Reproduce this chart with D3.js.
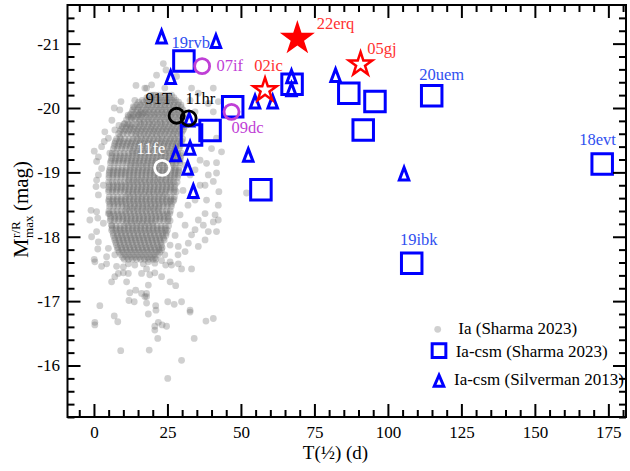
<!DOCTYPE html>
<html>
<head>
<meta charset="utf-8">
<script src="https://cdn.jsdelivr.net/npm/d3@7"></script>
<style>
  body { margin: 0; background: #fff; }
  svg { display: block; }
  text { font-family: "Liberation Serif", "Times New Roman", serif; }
</style>
</head>
<body>
<svg id="chart" width="630" height="471"></svg>
<script>
// ---- data -------------------------------------------------------------
// Axis domains: rise/decline time T(1/2) in days, peak magnitude
const tDomain = [-9, 181];
const mDomain = [-15.2, -21.6];
const xMajorTicks = [0, 25, 50, 75, 100, 125, 150, 175];
const yMajorTicks = [-21, -20, -19, -18, -17, -16];

// Normal SNe Ia (Sharma 2023): well separated points [T, M]
const iaSparse = [
  [14.3,-20.35],[17.3,-20.31],[9.2,-20.10],[13.9,-20.12],[6.9,-20.00],[13.4,-20.02],[15.1,-19.89],[16.8,-19.92],
  [12.6,-19.85],[10.5,-19.76],[8.5,-19.73],[12.2,-19.74],[3.7,-19.63],[7.1,-19.66],[4.9,-19.53],[8.8,-19.55],
  [3.5,-19.48],[0.1,-19.33],[2.6,-19.40],[5.4,-19.30],[1.5,-19.24],[0.9,-19.17],[1.5,-18.96],[2.6,-19.06],
  [0.9,-18.88],[0.7,-18.78],[3.2,-18.80],[1.5,-18.65],[-1.0,-18.41],[0.9,-18.39],[-1.4,-18.26],[1.3,-18.29],
  [4.9,-18.36],[3.2,-18.21],[6.0,-18.18],[0.9,-18.08],[1.5,-17.92],[-0.8,-18.00],[1.3,-17.81],[4.9,-17.82],
  [4.3,-17.69],[7.1,-17.72],[0.1,-17.65],[0.3,-17.61],[2.6,-17.54],[4.3,-17.58],[7.7,-17.54],[10.0,-17.53],
  [11.7,-17.58],[13.9,-17.56],[16.8,-17.58],[8.3,-17.43],[10.0,-17.44],[11.7,-17.43],[16.2,-17.43],[7.1,-17.38],
  [6.0,-17.30],[11.1,-17.30],[14.2,-17.17],[12.2,-17.13],[16.2,-17.12],[17.3,-17.07],[11.9,-17.01],[13.7,-16.99],
  [2.0,-16.93],[6.9,-16.77],[0.3,-16.67],[0.3,-16.63],[8.1,-16.68],[9.1,-16.23],
  [18.5,-17.61],[20.7,-17.59],[23.0,-17.63],[25.9,-17.61],[24.4,-17.56],[26.4,-17.56],[28.7,-17.58],[29.8,-17.50],
  [33.2,-17.50],[17.9,-17.50],[19.0,-17.41],[20.7,-17.44],[23.0,-17.38],[18.5,-17.25],[25.9,-17.30],[27.8,-17.24],
  [17.9,-17.12],[17.9,-17.07],[17.9,-16.97],[21.0,-16.93],[21.1,-16.86],[25.1,-16.99],[27.3,-16.95],[29.8,-16.99],
  [32.7,-16.86],[32.7,-16.83],[18.5,-16.80],[38.1,-16.69],[40.6,-16.73],[21.9,-16.67],[20.7,-16.61],[23.2,-16.63],
  [24.7,-16.61],[20.7,-16.55],[21.7,-16.42],[34.1,-16.42],[18.8,-16.24],[29.8,-16.08],[25.1,-15.80],
  [38.3,-19.14],[41.7,-19.15],[38.9,-18.96],[41.7,-18.99],[40.6,-18.86],[42.5,-18.70],[37.8,-18.80],[38.3,-18.57],
  [42.3,-18.49],[37.8,-18.36],[41.2,-18.34],[42.3,-18.26],[40.6,-18.23],[37.2,-18.18],[35.5,-18.26],[34.4,-18.11],
  [38.9,-18.08],[41.7,-18.08],[33.2,-18.03],[37.8,-17.95],[32.1,-17.90],[35.5,-17.85],[31.0,-17.77],[28.7,-17.85],
  [17.9,-20.31],[19.6,-20.36],[20.2,-20.20],[24.1,-20.31],[28.1,-20.49],[33.2,-20.31],[35.5,-20.23],[40.6,-20.31],
  [38.9,-20.07],[42.3,-20.10],[40.6,-19.94],[41.7,-19.53],[40.0,-19.37],[43.4,-19.32],
  [23.6,-20.69],[21.3,-20.51],[24.5,-20.59],[51.9,-18.68],
  [31.0,-19.11],[32.7,-18.96],[30.3,-18.72],[32.0,-18.49],[34.4,-18.57],[29.3,-18.34],[31.0,-18.18],[27.6,-18.02],
  [25.9,-17.87],[28.6,-17.72],[24.1,-17.72],[32.7,-20.12],[34.4,-19.94],[36.1,-19.19],[34.4,-19.04],[36.1,-18.80],
  [8.8,-19.97],[11.6,-19.89],[6.1,-19.81]
];

// Normal SNe Ia (Sharma 2023): crowded core, one row per magnitude [M, [T...]]
const iaCoreRows = [
  [-20.20, [19.3,20.8,22.0,23.6,25.1,26.4]],
  [-20.16, [18.0,19.6,21.3,22.8,24.4,25.8,27.2]],
  [-20.12, [16.4,17.9,19.2,20.7,22.3,23.5,25.0,26.6,27.9]],
  [-20.09, [15.2,16.9,18.4,19.9,21.2,22.9,24.6,25.9,27.4,28.8]],
  [-20.05, [14.6,15.8,17.4,18.6,20.1,21.5,23.0,24.2,25.8,27.1,28.6,29.6]],
  [-20.01, [13.8,15.3,16.8,18.2,19.6,21.1,22.5,24.0,25.4,26.9,28.1,29.7]],
  [-19.97, [13.2,14.9,16.1,17.7,19.0,20.4,21.9,23.2,24.6,26.0,27.5,28.8,30.3]],
  [-19.93, [12.9,14.4,15.8,17.3,18.6,20.1,21.5,23.0,24.3,25.8,27.1,28.6,30.0]],
  [-19.90, [12.4,13.6,15.2,16.5,18.0,19.5,20.8,22.2,23.7,25.1,26.4,27.9,29.2,30.6]],
  [-19.86, [11.7,13.3,14.7,16.1,17.6,18.9,20.4,21.8,23.3,24.7,26.1,27.5,28.9,30.3]],
  [-19.82, [11.1,12.8,14.0,15.6,16.9,18.4,19.7,21.2,22.6,24.0,25.5,26.8,28.3,29.6,30.9]],
  [-19.78, [15.3,17.1,18.9,20.7,22.5,24.3,26.1,27.9]],
  [-19.75, [10.2,11.6,13.1,14.5,15.9,17.2,18.8,20.1,21.6,23.0,24.3,25.9,27.2,28.6,30.0]],
  [-19.71, [9.7,11.1,12.6,14.0,15.4,16.9,18.3,19.7,21.1,22.6,24.0,25.4,26.8,28.3,29.7,30.8]],
  [-19.67, [9.3,10.8,12.2,13.6,15.0,16.4,17.8,19.3,20.6,22.0,23.5,24.8,26.3,27.6,29.1,30.5]],
  [-19.64, [8.9,10.3,11.8,13.2,14.6,16.0,17.4,18.9,20.3,21.7,23.1,24.5,25.9,27.4,28.8,30.1]],
  [-19.60, [8.4,9.9,11.3,12.7,14.2,15.5,17.0,18.4,19.8,21.2,22.6,24.0,25.5,26.9,28.2,29.7]],
  [-19.56, [14.2,16.0,17.8,19.6,21.4,23.2,25.0,26.8,28.6]],
  [-19.52, [7.7,9.1,10.5,12.0,13.3,14.8,16.2,17.6,19.0,20.4,21.9,23.2,24.7,26.1,27.4,28.9,30.2]],
  [-19.48, [7.3,8.7,10.1,11.6,13.0,14.4,15.8,17.2,18.6,20.1,21.5,22.9,24.3,25.7,27.1,28.5,29.9]],
  [-19.45, [7.1,8.5,9.8,11.3,12.6,14.1,15.5,16.9,18.3,19.7,21.1,22.5,23.9,25.3,26.7,28.1,29.5]],
  [-19.41, [6.9,8.2,9.6,11.0,12.4,13.8,15.2,16.6,18.0,19.4,20.9,22.2,23.7,25.1,26.5,27.9,29.3]],
  [-19.37, [6.6,7.9,9.4,10.7,12.2,13.5,15.0,16.4,17.8,19.2,20.6,22.0,23.4,24.8,26.2,27.6,29.0]],
  [-19.33, [13.1,14.9,16.7,18.5,20.3,22.1,23.9,25.7,27.5]],
  [-19.30, [6.2,7.5,8.9,10.3,11.7,13.1,14.5,15.9,17.3,18.7,20.1,21.5,22.9,24.3,25.7,27.1,28.5,29.8]],
  [-19.26, [6.1,7.6,9.0,10.4,11.8,13.2,14.6,16.0,17.4,18.8,20.2,21.6,23.0,24.4,25.8,27.2,28.6,29.6]],
  [-19.22, [6.0,7.3,8.7,10.0,11.5,12.8,14.3,15.6,17.1,18.4,19.9,21.2,22.7,24.0,25.5,26.8,28.2,29.4]],
  [-19.18, [5.8,7.2,8.6,10.0,11.4,12.8,14.2,15.6,17.0,18.4,19.8,21.2,22.6,24.0,25.4,26.8,28.2,29.3]],
  [-19.15, [5.6,7.0,8.3,9.8,11.1,12.6,13.9,15.3,16.7,18.1,19.5,20.9,22.3,23.7,25.1,26.5,27.9,29.2]],
  [-19.11, [12.4,14.2,16.0,17.8,19.6,21.4,23.2,25.0,26.8]],
  [-19.07, [5.5,6.8,8.2,9.6,11.0,12.4,13.8,15.2,16.6,18.0,19.4,20.8,22.2,23.6,25.0,26.4,27.7,28.9]],
  [-19.03, [5.3,6.7,8.1,9.5,10.9,12.3,13.7,15.1,16.5,17.9,19.3,20.7,22.1,23.5,24.9,26.3,27.7,28.9]],
  [-19.00, [5.2,6.5,7.9,9.3,10.7,12.1,13.5,14.9,16.3,17.7,19.1,20.5,21.9,23.3,24.7,26.1,27.5,28.8]],
  [-18.96, [5.1,6.5,7.9,9.3,10.7,12.1,13.5,14.9,16.3,17.7,19.1,20.5,21.9,23.3,24.7,26.1,27.5,28.6]],
  [-18.92, [5.1,6.4,7.8,9.2,10.6,12.0,13.4,14.8,16.2,17.6,19.0,20.4,21.8,23.2,24.6,26.0,27.3,28.4]],
  [-18.88, [11.8,13.6,15.4,17.2,19.0,20.8,22.6,24.4,26.2]],
  [-18.85, [5.0,6.3,7.7,9.0,10.4,11.8,13.2,14.6,16.0,17.4,18.8,20.2,21.6,23.0,24.4,25.8,27.1,28.3]],
  [-18.81, [5.2,6.6,8.0,9.4,10.8,12.2,13.6,15.0,16.4,17.8,19.2,20.6,22.0,23.4,24.8,26.2,27.6]],
  [-18.77, [5.1,6.5,7.9,9.3,10.7,12.1,13.5,14.9,16.3,17.7,19.1,20.5,21.9,23.3,24.7,26.1,27.4]],
  [-18.73, [5.0,6.4,7.8,9.2,10.6,12.0,13.4,14.8,16.2,17.6,19.0,20.4,21.8,23.2,24.6,26.0,27.4]],
  [-18.70, [5.0,6.3,7.6,9.0,10.4,11.8,13.2,14.6,16.0,17.4,18.8,20.2,21.6,23.0,24.4,25.8,27.2,28.0]],
  [-18.66, [11.5,13.3,15.1,16.9,18.7,20.5,22.3,24.1]],
  [-18.62, [5.2,6.6,8.0,9.4,10.8,12.2,13.6,15.0,16.4,17.8,19.2,20.6,22.0,23.4,24.8,26.2,27.4]],
  [-18.58, [5.1,6.5,7.9,9.3,10.7,12.1,13.5,14.9,16.3,17.7,19.1,20.5,21.9,23.3,24.7,26.1,27.2]],
  [-18.55, [5.0,6.4,7.8,9.2,10.6,12.0,13.4,14.8,16.2,17.6,19.0,20.4,21.8,23.2,24.6,26.0,27.0]],
  [-18.51, [5.4,6.8,8.2,9.6,11.0,12.4,13.8,15.2,16.6,18.0,19.4,20.8,22.2,23.6,25.0,26.4]],
  [-18.47, [5.3,6.7,8.1,9.5,10.9,12.3,13.7,15.1,16.5,17.9,19.3,20.7,22.1,23.5,24.9,26.3]],
  [-18.44, [11.2,13.0,14.8,16.6,18.4,20.2,22.0]],
  [-18.40, [5.1,6.5,7.9,9.3,10.7,12.1,13.5,14.9,16.3,17.7,19.1,20.5,21.9,23.3,24.7,26.0]],
  [-18.36, [5.3,6.7,8.1,9.5,10.9,12.3,13.7,15.1,16.5,17.9,19.3,20.7,22.1,23.5,24.9,25.8]],
  [-18.32, [5.6,7.0,8.4,9.8,11.2,12.6,14.0,15.4,16.8,18.2,19.6,21.0,22.4,23.8,25.2]],
  [-18.28, [5.7,7.1,8.5,9.9,11.3,12.7,14.1,15.5,16.9,18.3,19.7,21.1,22.5,23.9,25.3]],
  [-18.25, [5.5,6.9,8.3,9.7,11.1,12.5,13.9,15.3,16.7,18.1,19.5,20.9,22.3,23.7,25.1,25.9]],
  [-18.21, [11.0,12.8,14.6,16.4,18.2,20.0]],
  [-18.17, [6.1,7.5,8.9,10.3,11.7,13.1,14.5,15.9,17.3,18.7,20.1,21.5,22.9,24.3,25.4]],
  [-18.13, [6.2,7.6,9.0,10.4,11.8,13.2,14.6,16.0,17.4,18.8,20.2,21.6,23.0,24.4]],
  [-18.10, [6.0,7.4,8.8,10.2,11.6,13.0,14.4,15.8,17.2,18.6,20.0,21.4,22.8,24.2,25.0]],
  [-18.06, [6.5,7.9,9.3,10.7,12.1,13.5,14.9,16.3,17.7,19.1,20.5,21.9,23.3,24.6]],
  [-18.02, [6.6,8.0,9.4,10.8,12.2,13.6,15.0,16.4,17.8,19.2,20.6,22.0,23.4,24.5]],
  [-17.98, [7.0,8.4,9.8,11.2,12.6,14.0,15.4,16.8,18.2,19.6,21.0,22.4,23.7]],
  [-17.95, [7.1,8.5,9.9,11.3,12.7,14.1,15.5,16.9,18.3,19.7,21.1,22.5,23.9]],
  [-17.91, [7.4,8.8,10.2,11.6,13.0,14.4,15.8,17.2,18.6,20.0,21.4,22.8]],
  [-17.87, [7.6,9.0,10.4,11.8,13.2,14.6,16.0,17.4,18.8,20.2,21.6,23.0]],
  [-17.83, [8.0,9.4,10.8,12.2,13.6,15.0,16.4,17.8,19.2,20.6,22.0,23.2]],
  [-17.80, [8.1,9.5,10.9,12.3,13.7,15.1,16.5,17.9,19.3,20.7,22.1,23.0]],
  [-17.76, [8.6,10.0,11.4,12.8,14.2,15.6,17.0,18.4,19.8,21.2,22.4]],
  [-17.72, [9.2,10.6,12.0,13.4,14.8,16.2,17.6,19.0,20.4,21.8]],
  [-17.68, [9.8,11.2,12.6,14.0,15.4,16.8,18.2,19.6,20.8]],
  [-17.65, [10.3,11.7,13.1,14.5,15.9,17.3,18.7,20.1,21.0]]
];

// SNe Ia-CSM (Sharma 2023)
const csmSharmaT    = [30.6, 47.2, 33.2, 39.5, 56.8, 67.4, 86.7, 95.6, 91.6, 114.9, 172.9, 108.1];
const csmSharmaM    = [-20.73, -20.02, -19.58, -19.65, -18.73, -20.37, -20.23, -20.10, -19.66, -20.19, -19.13, -17.59];
const csmSharmaName = ["19rvb", "", "", "", "", "", "", "", "", "20uem", "18evt", "19ibk"];

// SNe Ia-CSM (Silverman 2013)
const csmSilvT = [23.0, 41.5, 26.1, 54.8, 60.8, 67.2, 67.2, 32.4, 27.8, 32.7, 31.9, 33.8, 52.5, 82.2, 105.5];
const csmSilvM = [-21.13, -21.06, -20.50, -20.12, -20.12, -20.51, -20.31, -19.84, -19.30, -19.40, -19.09, -18.73, -19.29, -20.53, -19.00];

// Super-Chandrasekhar events (stars): 22erq filled, others open
const starName = ["22erq", "02ic", "05gj"];
const starT    = [69.2, 58.2, 90.7];
const starM    = [-21.08, -20.28, -20.68];

// Reference SNe Ia (circles)
const refName  = ["07if", "09dc", "91T", "11hr", "11fe"];
const refT     = [36.8, 46.8, 28.1, 32.2, 23.2];
const refM     = [-20.65, -19.94, -19.88, -19.84, -19.07];

const legendLabels = ["Ia (Sharma 2023)", "Ia-csm (Sharma 2023)", "Ia-csm (Silverman 2013)"];

// ---- layout -----------------------------------------------------------
const BLUE = "#0000ff", BLUE_TXT = "#3050f0";
const RED = "#ff0000", RED_TXT = "#ff3030";
const MAGENTA = "#bf3fd6";
const plot = { left: 67.5, right: 626, top: 5, bottom: 417 };

const svg = d3.select("#chart");
svg.append("rect").attr("width", 630).attr("height", 471).attr("fill", "#fff");

const x = d3.scaleLinear().domain(tDomain).range([plot.left, plot.right]);
const y = d3.scaleLinear().domain(mDomain).range([plot.bottom, plot.top]);

// ---- gray cloud of normal SNe Ia --------------------------------------
const iaPoints = iaSparse.concat(
  iaCoreRows.flatMap(([m, ts]) => ts.map(t => [t, m]))
);
const dotStyle = sel => sel.attr("r", 3.4).attr("fill", "#707070").attr("fill-opacity", 0.33);

svg.append("g").selectAll("circle").data(iaPoints).join("circle")
  .attr("cx", d => x(d[0])).attr("cy", d => y(d[1]))
  .call(dotStyle);

// ---- marker shapes ----------------------------------------------------
function triPath(w, h) {
  const off = 1.4;
  return `M0,${-h / 2 + off}L${w / 2},${h / 2 + off}L${-w / 2},${h / 2 + off}Z`;
}
const squareSym = s => d3.symbol(d3.symbolSquare, s * s)();
const starSym = r => d3.symbol(d3.symbolStar, r * r / 0.8908130915292852)();

// Ia-CSM (Sharma 2023) squares
svg.append("g").selectAll("path").data(csmSharmaT).join("path")
  .attr("transform", (t, i) => `translate(${x(t)},${y(csmSharmaM[i])})`)
  .attr("d", squareSym(20.5))
  .attr("fill", "none").attr("stroke", BLUE).attr("stroke-width", 3);

// Ia-CSM (Silverman 2013) triangles
svg.append("g").selectAll("path").data(csmSilvT).join("path")
  .attr("transform", (t, i) => `translate(${x(t)},${y(csmSilvM[i])})`)
  .attr("d", triPath(9.5, 12.5))
  .attr("fill", "none").attr("stroke", BLUE).attr("stroke-width", 3)
  .attr("stroke-linejoin", "miter");

// stars
svg.append("g").selectAll("path").data(starT).join("path")
  .attr("transform", (t, i) => `translate(${x(t)},${y(starM[i])})`)
  .attr("d", (t, i) => i === 0 ? starSym(18.4) : starSym(12.3))
  .attr("fill", (t, i) => i === 0 ? RED : "none")
  .attr("stroke", (t, i) => i === 0 ? "none" : RED)
  .attr("stroke-width", 2.5);

// reference circles
const refColor = ["#bf3fd6", "#bf3fd6", "#000", "#000", "#fff"];
svg.append("g").selectAll("circle").data(refT).join("circle")
  .attr("cx", t => x(t)).attr("cy", (t, i) => y(refM[i]))
  .attr("r", 7.5)
  .attr("fill", "none")
  .attr("stroke", (t, i) => refColor[i]).attr("stroke-width", 2.8);

// ---- object labels ----------------------------------------------------
const labelOffset = {
  "19rvb": [-12.3, -12.7], "20uem": [-12.4, -16], "18evt": [-23, -19], "19ibk": [-11.7, -18.3],
  "22erq": [19.4, -9], "02ic": [-10.7, -19.3], "05gj": [6.6, -10.7],
  "07if": [14.4, 4.7], "09dc": [0, 21], "91T": [-31, -11.7], "11hr": [-3, -14], "11fe": [-25.6, -13.7]
};
const labels = [];
csmSharmaName.forEach((n, i) => { if (n) labels.push([n, csmSharmaT[i], csmSharmaM[i], BLUE_TXT]); });
starName.forEach((n, i) => labels.push([n, starT[i], starM[i], RED_TXT]));
refName.forEach((n, i) => labels.push([n, refT[i], refM[i], i < 2 ? MAGENTA : refColor[i]]));

svg.append("g").selectAll("text").data(labels).join("text")
  .attr("x", d => x(d[1]) + labelOffset[d[0]][0])
  .attr("y", d => y(d[2]) + labelOffset[d[0]][1])
  .attr("fill", d => d[3])
  .style("font-size", "16.5px")
  .text(d => d[0]);

// ---- axes -------------------------------------------------------------
const xMinor = d3.range(-5, 181, 5).filter(v => v % 25 !== 0);
const yMinor = d3.range(-21.4, -15.19, 0.2).map(v => +v.toFixed(1)).filter(v => !Number.isInteger(v));

function styleAxis(g) {
  g.select(".domain").remove();
  g.selectAll(".tick line").attr("stroke", "#000").attr("stroke-width", 2);
  g.selectAll(".tick text").attr("fill", "#000")
    .style("font-family", '"Liberation Serif", "Times New Roman", serif')
    .style("font-size", "17px");
}
const fmt = d => String(d);

svg.append("g").attr("transform", `translate(0,${plot.bottom})`)
  .call(d3.axisBottom(x).tickValues(xMajorTicks).tickSize(-13).tickSizeOuter(0).tickPadding(9).tickFormat(fmt))
  .call(styleAxis);
svg.append("g").attr("transform", `translate(0,${plot.bottom})`)
  .call(d3.axisBottom(x).tickValues(xMinor).tickSize(-7).tickSizeOuter(0).tickFormat(""))
  .call(styleAxis);
svg.append("g").attr("transform", `translate(0,${plot.top})`)
  .call(d3.axisTop(x).tickValues(xMajorTicks).tickSize(-13).tickSizeOuter(0).tickFormat(""))
  .call(styleAxis);
svg.append("g").attr("transform", `translate(0,${plot.top})`)
  .call(d3.axisTop(x).tickValues(xMinor).tickSize(-7).tickSizeOuter(0).tickFormat(""))
  .call(styleAxis);

svg.append("g").attr("transform", `translate(${plot.left},0)`)
  .call(d3.axisLeft(y).tickValues(yMajorTicks).tickSize(-13).tickSizeOuter(0).tickPadding(7.5).tickFormat(fmt))
  .call(styleAxis);
svg.append("g").attr("transform", `translate(${plot.left},0)`)
  .call(d3.axisLeft(y).tickValues(yMinor).tickSize(-7).tickSizeOuter(0).tickFormat(""))
  .call(styleAxis);
svg.append("g").attr("transform", `translate(${plot.right},0)`)
  .call(d3.axisRight(y).tickValues(yMajorTicks).tickSize(-13).tickSizeOuter(0).tickFormat(""))
  .call(styleAxis);
svg.append("g").attr("transform", `translate(${plot.right},0)`)
  .call(d3.axisRight(y).tickValues(yMinor).tickSize(-7).tickSizeOuter(0).tickFormat(""))
  .call(styleAxis);

svg.append("rect")
  .attr("x", plot.left).attr("y", plot.top)
  .attr("width", plot.right - plot.left).attr("height", plot.bottom - plot.top)
  .attr("fill", "none").attr("stroke", "#000").attr("stroke-width", 2);

// axis titles
svg.append("text")
  .attr("x", 335.5).attr("y", 459)
  .attr("text-anchor", "middle")
  .style("font-size", "19px")
  .text("T(½) (d)");

const yl = svg.append("g").attr("transform", "translate(27.5,258) rotate(-90)");
const mGlyph = yl.append("text").attr("x", 0).attr("y", 0).style("font-size", "22px").text("M");
const mw = mGlyph.node().getComputedTextLength();
const sup = yl.append("text").attr("x", mw + 0.5).attr("y", -8).style("font-size", "13px").text("r/R");
const sub = yl.append("text").attr("x", mw + 0.5).attr("y", 5).style("font-size", "13px").text("max");
const sw = Math.max(sup.node().getComputedTextLength(), sub.node().getComputedTextLength());
yl.append("text").attr("x", mw + sw + 5).attr("y", 0).style("font-size", "21px").text("(mag)");

// ---- legend -----------------------------------------------------------
const lg = svg.append("g");
lg.append("circle").attr("cx", 437.7).attr("cy", 329.3).call(dotStyle);
lg.append("path").attr("transform", "translate(439,350.7)")
  .attr("d", squareSym(13.7))
  .attr("fill", "none").attr("stroke", BLUE).attr("stroke-width", 3);
lg.append("path").attr("transform", "translate(439,379.3)")
  .attr("d", triPath(9.5, 11))
  .attr("fill", "none").attr("stroke", BLUE).attr("stroke-width", 3);
const legendPos = [[458.3, 333.5], [455.7, 356.5], [454, 385]];
lg.selectAll("text.lab").data(legendLabels).join("text")
  .attr("class", "lab")
  .attr("x", (d, i) => legendPos[i][0]).attr("y", (d, i) => legendPos[i][1])
  .style("font-size", "17px")
  .text(d => d);
</script>
</body>
</html>
